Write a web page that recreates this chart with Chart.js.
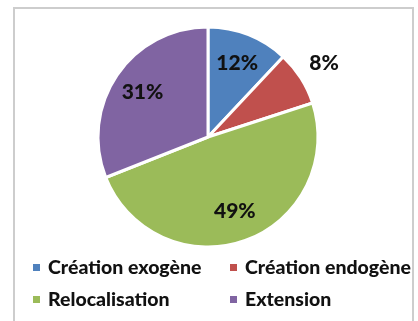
<!DOCTYPE html>
<html lang="fr">
<head>
    <meta charset="UTF-8">
    <title>Répartition</title>
    <script src="https://cdn.jsdelivr.net/npm/chart.js"></script>
    <style>
        body {
            margin: 0;
            padding: 0;
            background: #fff;
            width: 418px;
            height: 321px;
            overflow: hidden;
            position: relative;
            font-family: Lato, "Open Sans", sans-serif;
        }

        .frame {
            position: absolute;
            left: 13px;
            top: 7px;
            width: 397px;
            height: 340px;
            border: 2px solid #cdcdcd;
        }

        .chart-box {
            position: absolute;
            left: 0;
            top: 0;
            width: 418px;
            height: 321px;
        }

        .legend {
            position: absolute;
            left: 0;
            top: 0;
        }

        .legend-item {
            position: absolute;
            white-space: nowrap;
            font-weight: 900;
            font-size: 19.5px;
            color: #111;
            line-height: 20px;
        }

        .legend-item span {
            display: inline-block;
            width: 7px;
            height: 7px;
            margin-right: 8px;
            vertical-align: 3px;
        }
    </style>
</head>
<body>

    <div class="frame"></div>
    <div class="chart-box">
        <canvas id="pieChart"></canvas>
    </div>
    <div class="legend" id="legend"></div>

    <script>
        // Data
        const categories = ['Création exogène', 'Création endogène', 'Relocalisation', 'Extension'];
        const shares = [12, 8, 49, 31];
        const sliceColors = ['#4F81BD', '#C0504D', '#9BBB59', '#8064A2'];

        // Percent labels drawn over/next to each slice
        const percentLabels = {
            id: 'percentLabels',
            afterDatasetsDraw(chart) {
                const ctx = chart.ctx;
                const meta = chart.getDatasetMeta(0);
                const total = shares.reduce((a, b) => a + b, 0);
                ctx.save();
                ctx.font = '900 21px Lato, "Open Sans", sans-serif';
                ctx.fillStyle = '#111';
                ctx.textAlign = 'center';
                ctx.textBaseline = 'middle';
                meta.data.forEach((arc, i) => {
                    const mid = (arc.startAngle + arc.endAngle) / 2;
                    const pct = shares[i] / total * 100;
                    // small slices get their label outside the pie
                    const r = pct < 10 ? arc.outerRadius * 1.25 : arc.outerRadius * 0.72;
                    const x = arc.x + Math.cos(mid) * r;
                    const y = arc.y + Math.sin(mid) * r;
                    ctx.fillText(Math.round(pct) + '%', x, y);
                });
                ctx.restore();
            }
        };

        const ctx = document.getElementById('pieChart').getContext('2d');
        const pieChart = new Chart(ctx, {
            type: 'pie',
            data: {
                labels: categories,
                datasets: [{
                    data: shares,
                    backgroundColor: sliceColors,
                    borderColor: '#ffffff',
                    borderWidth: 3,
                    hoverOffset: 0,
                    offset: 0
                }]
            },
            options: {
                responsive: true,
                maintainAspectRatio: false,
                animation: false,
                events: [],
                layout: {
                    padding: { left: 96.5, top: 25.5, right: 98.5, bottom: 72.5 }
                },
                plugins: {
                    legend: { display: false },
                    tooltip: { enabled: false }
                }
            },
            plugins: [percentLabels]
        });

        // Legend, two columns
        const legendSpots = [[33, 257], [230, 257], [33, 289], [230, 289]];
        const legendEl = document.getElementById('legend');
        categories.forEach((name, i) => {
            const item = document.createElement('div');
            item.className = 'legend-item';
            item.style.left = legendSpots[i][0] + 'px';
            item.style.top = legendSpots[i][1] + 'px';
            item.innerHTML = '<span style="background:' + sliceColors[i] + '"></span>' + name;
            legendEl.appendChild(item);
        });
    </script>
</body>
</html>
